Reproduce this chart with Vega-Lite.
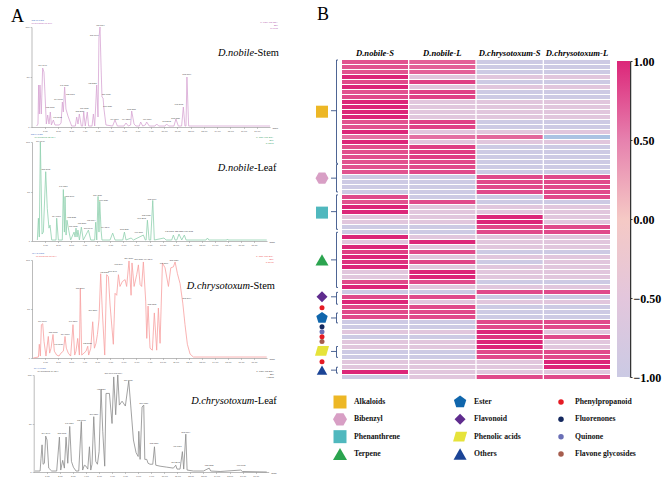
{"$schema":"https://vega.github.io/schema/vega-lite/v6.json","width":669,"height":493,"padding":0,"autosize":{"type":"fit","contains":"padding"},"background":"white","config":{"view":{"stroke":null}},
"resolve":{"scale":{"x":"independent","y":"independent","color":"independent","shape":"independent","size":"independent"},"axis":{"x":"independent","y":"independent"}},
"layer":[
{"layer":[
{"data":{"values":[[0.39,1],[0.49,3],[0.54,42],[0.59,13],[0.64,42],[0.74,13],[0.84,59],[0.94,55],[1.04,27],[1.12,3],[1.22,12],[1.32,3],[1.42,15],[1.5,2],[1.65,7],[1.77,2],[2.1,2],[2.23,4],[2.33,25],[2.4,15],[2.5,40],[2.6,18],[2.75,11],[3.03,1],[3.31,1],[3.41,10],[3.51,3],[3.61,13],[3.76,1],[3.86,1],[3.94,15],[4.06,1],[4.21,15],[4.31,1],[4.57,1],[4.67,13],[4.77,1],[4.92,42],[5.02,10],[5.09,89],[5.17,100],[5.25,60],[5.32,30],[5.4,29],[5.47,18],[5.62,2],[6.12,1],[6.3,7],[6.48,1],[6.98,1],[7.13,4],[7.31,1],[7.48,2],[7.56,16],[7.74,3],[7.88,1],[8.14,1],[8.24,5],[8.39,1],[8.59,2],[8.69,5],[8.89,1],[9.32,1],[9.45,3],[9.6,1],[10.08,1],[10.2,3],[10.35,1],[10.75,1],[10.9,8],[11.08,1],[11.33,1],[11.46,20],[11.58,1],[11.66,1],[11.73,50],[11.86,1],[12.97,1],[18,1]]},
"transform":[{"calculate":"datum[0]","as":"t"},{"calculate":"datum[1]","as":"i"}],
"mark":{"type":"line","color":"#D7A5D3","strokeWidth":0.8},
"encoding":{"x":{"field":"t","type":"quantitative","scale":{"domain":[0,18],"range":[31.5,270]},"axis":{"orient":"bottom","offset":-366,"values":[1,2,3,4,5,6,7,8,9,10,11,12,13,14,15,16,17],"format":".2f","grid":false,"title":null,"labelFontSize":2.4,"labelFont":"Liberation Sans","labelColor":"#555","labelPadding":1,"tickSize":1.5,"tickWidth":0.4,"tickColor":"#777","domainColor":"#777","domainWidth":0.5}},"y":{"field":"i","type":"quantitative","scale":{"domain":[0,100],"range":[127,27]},"axis":{"orient":"left","offset":-31.5,"values":[0,50,100],"format":"d","grid":false,"title":null,"labelFontSize":2.4,"labelFont":"Liberation Sans","labelColor":"#555","labelPadding":1,"tickSize":1.5,"tickWidth":0.4,"tickColor":"#777","domainColor":"#777","domainWidth":0.5}}}},
{"data":{"values":[{"t":0.84,"i":61,"label":"304.3040"},{"t":1.4,"i":19,"label":"318.3002"},{"t":1.97,"i":9,"label":"346.2930"},{"t":2.03,"i":27,"label":"314.3003"},{"t":2.48,"i":41,"label":"346.3276"},{"t":2.93,"i":32,"label":"318.3003"},{"t":3.64,"i":15,"label":"332.2958"},{"t":3.99,"i":18,"label":"360.3239"},{"t":4.59,"i":43,"label":"478.2783"},{"t":4.74,"i":91,"label":"509.3046"},{"t":5.19,"i":101,"label":"492.3694"},{"t":5.65,"i":32,"label":"524.3959"},{"t":5.75,"i":20,"label":"510.3780"},{"t":6.25,"i":7,"label":"494.3240"},{"t":7.13,"i":7,"label":"494.3239"},{"t":7.56,"i":17,"label":"512.3239"},{"t":8.72,"i":7,"label":"496.3397"},{"t":10.2,"i":5,"label":"391.2848"},{"t":10.88,"i":8,"label":"568.3387"},{"t":11.11,"i":22,"label":"748.3092"},{"t":11.73,"i":52,"label":"592.3694"}]},
"mark":{"type":"text","fontSize":2.1,"font":"Liberation Sans","color":"#444","baseline":"bottom"},"encoding":{"x":{"field":"t","type":"quantitative"},"y":{"field":"i","type":"quantitative"},"text":{"field":"label"}}},
{"data":{"values":[{"t":0,"i":107,"label":"NO-S-POS"}]},"mark":{"type":"text","fontSize":2.5,"font":"Liberation Sans","color":"#4A6FC4","align":"left"},"encoding":{"x":{"field":"t","type":"quantitative"},"y":{"field":"i","type":"quantitative"},"text":{"field":"label"}}},
{"data":{"values":[{"t":0,"i":104,"label":"UHPLCMS-01 594"}]},"mark":{"type":"text","fontSize":2.5,"font":"Liberation Sans","color":"#B45DB0","align":"left"},"encoding":{"x":{"field":"t","type":"quantitative"},"y":{"field":"i","type":"quantitative"},"text":{"field":"label"}}},
{"data":{"values":[{"t":18.6,"i":105,"label":"1: TOF MS ES+"},{"t":18.6,"i":102,"label":"BPI"},{"t":18.6,"i":99,"label":"8.96e5"}]},"mark":{"type":"text","fontSize":2.5,"font":"Liberation Sans","color":"#B45DB0","align":"right"},"encoding":{"x":{"field":"t","type":"quantitative"},"y":{"field":"i","type":"quantitative"},"text":{"field":"label"}}},
{"data":{"values":[{"t":18.4,"i":-1,"label":"Time"}]},"mark":{"type":"text","fontSize":2.5,"font":"Liberation Sans","color":"#333"},"encoding":{"x":{"field":"t","type":"quantitative"},"y":{"field":"i","type":"quantitative"},"text":{"field":"label"}}},
{"data":{"values":[{"t":16.8,"i":74,"label":"D.nobile"}]},"mark":{"type":"text","fontSize":10.4,"font":"Liberation Serif","fontStyle":"italic","align":"right","color":"#000"},"encoding":{"x":{"field":"t","type":"quantitative"},"y":{"field":"i","type":"quantitative"},"text":{"field":"label"}}},
{"data":{"values":[{"t":16.8,"i":74,"label":"-Stem"}]},"mark":{"type":"text","fontSize":10.4,"font":"Liberation Serif","align":"left","color":"#000"},"encoding":{"x":{"field":"t","type":"quantitative"},"y":{"field":"i","type":"quantitative"},"text":{"field":"label"}}},
{"data":{"values":[{"t":-1.06,"i":110,"label":"A"}]},"mark":{"type":"text","fontSize":18,"font":"Liberation Serif","color":"#000"},"encoding":{"x":{"field":"t","type":"quantitative"},"y":{"field":"i","type":"quantitative"},"text":{"field":"label"}}}
]},
{"layer":[
{"data":{"values":[[0.41,1],[0.49,23],[0.56,4],[0.64,100],[0.77,7],[0.87,9],[1.05,70],[1.17,33],[1.3,13],[1.38,16],[1.51,1],[1.84,1],[1.89,23],[2.02,1],[2.32,1],[2.4,52],[2.48,9],[2.53,45],[2.61,6],[2.68,21],[2.81,11],[2.96,1],[3.22,9],[3.3,4],[3.37,13],[3.45,4],[3.52,11],[3.63,1],[3.78,14],[3.93,1],[4.32,11],[4.5,1],[4.8,1],[4.88,19],[4.96,1],[5.06,45],[5.13,9],[5.19,40],[5.29,11],[5.36,1],[5.98,1],[6.18,8],[6.36,1],[6.95,1],[7.08,9],[7.2,1],[7.59,3],[7.77,1],[8.53,6],[8.68,1],[8.74,1],[8.84,21],[8.97,1],[9.09,1],[9.25,41],[9.37,1],[10.11,3],[10.27,1],[10.7,1],[10.83,6],[10.96,1],[11.09,1],[11.26,7],[11.47,1],[11.67,6],[11.8,1],[13.33,1],[13.44,3],[13.54,1],[14.92,1],[14.97,2],[15.02,1],[17.98,1]]},
"transform":[{"calculate":"datum[0]","as":"t"},{"calculate":"datum[1]","as":"i"}],
"mark":{"type":"line","color":"#8FD0AE","strokeWidth":0.8},
"encoding":{"x":{"field":"t","type":"quantitative","scale":{"domain":[0,18],"range":[32,267]},"axis":{"orient":"bottom","offset":-252,"values":[1,2,3,4,5,6,7,8,9,10,11,12,13,14,15,16,17],"format":".2f","grid":false,"title":null,"labelFontSize":2.4,"labelFont":"Liberation Sans","labelColor":"#555","labelPadding":1,"tickSize":1.5,"tickWidth":0.4,"tickColor":"#777","domainColor":"#777","domainWidth":0.5}},"y":{"field":"i","type":"quantitative","scale":{"domain":[0,100],"range":[241,142]},"axis":{"orient":"left","offset":-32,"values":[0,50,100],"format":"d","grid":false,"title":null,"labelFontSize":2.4,"labelFont":"Liberation Sans","labelColor":"#555","labelPadding":1,"tickSize":1.5,"tickWidth":0.4,"tickColor":"#777","domainColor":"#777","domainWidth":0.5}}}},
{"data":{"values":[{"t":0.64,"i":100.5,"label":"304.3040"},{"t":1.05,"i":72,"label":"318.3002"},{"t":2.4,"i":55,"label":"346.3276"},{"t":2.89,"i":45,"label":"318.3003"},{"t":1.86,"i":24,"label":"314.3003"},{"t":3.04,"i":23,"label":"332.2958"},{"t":3.17,"i":14,"label":"360.3239"},{"t":3.81,"i":17,"label":"478.2783"},{"t":4.32,"i":12,"label":"509.3046"},{"t":4.52,"i":20,"label":"492.3694"},{"t":5.03,"i":46,"label":"524.3959"},{"t":5.49,"i":41,"label":"510.3780"},{"t":5.59,"i":13,"label":"494.3240"},{"t":7.08,"i":11,"label":"512.3239"},{"t":8.17,"i":8,"label":"496.3397"},{"t":8.4,"i":22,"label":"391.2848"},{"t":8.76,"i":25,"label":"568.3387"},{"t":9.2,"i":42,"label":"592.3694"},{"t":10.52,"i":9,"label":"748.3092"},{"t":11.26,"i":9,"label":"622.3552"},{"t":12,"i":9,"label":"636.3712"}]},
"mark":{"type":"text","fontSize":2.1,"font":"Liberation Sans","color":"#444","baseline":"bottom"},"encoding":{"x":{"field":"t","type":"quantitative"},"y":{"field":"i","type":"quantitative"},"text":{"field":"label"}}},
{"data":{"values":[{"t":-0.1,"i":108,"label":"NO-L-POS"}]},"mark":{"type":"text","fontSize":2.5,"font":"Liberation Sans","color":"#4A6FC4","align":"left"},"encoding":{"x":{"field":"t","type":"quantitative"},"y":{"field":"i","type":"quantitative"},"text":{"field":"label"}}},
{"data":{"values":[{"t":0.2,"i":105,"label":"UHPLCMS-02 594"}]},"mark":{"type":"text","fontSize":2.5,"font":"Liberation Sans","color":"#3FA66C","align":"left"},"encoding":{"x":{"field":"t","type":"quantitative"},"y":{"field":"i","type":"quantitative"},"text":{"field":"label"}}},
{"data":{"values":[{"t":18.5,"i":105,"label":"1: TOF MS ES+"},{"t":18.5,"i":102,"label":"BPI"},{"t":18.5,"i":99,"label":"8.62e5"}]},"mark":{"type":"text","fontSize":2.5,"font":"Liberation Sans","color":"#3FA66C","align":"right"},"encoding":{"x":{"field":"t","type":"quantitative"},"y":{"field":"i","type":"quantitative"},"text":{"field":"label"}}},
{"data":{"values":[{"t":18.4,"i":-1,"label":"Time"}]},"mark":{"type":"text","fontSize":2.5,"font":"Liberation Sans","color":"#333"},"encoding":{"x":{"field":"t","type":"quantitative"},"y":{"field":"i","type":"quantitative"},"text":{"field":"label"}}},
{"data":{"values":[{"t":17,"i":74,"label":"D.nobile"}]},"mark":{"type":"text","fontSize":10.4,"font":"Liberation Serif","fontStyle":"italic","align":"right","color":"#000"},"encoding":{"x":{"field":"t","type":"quantitative"},"y":{"field":"i","type":"quantitative"},"text":{"field":"label"}}},
{"data":{"values":[{"t":17,"i":74,"label":"-Leaf"}]},"mark":{"type":"text","fontSize":10.4,"font":"Liberation Serif","align":"left","color":"#000"},"encoding":{"x":{"field":"t","type":"quantitative"},"y":{"field":"i","type":"quantitative"},"text":{"field":"label"}}}
]},
{"layer":[
{"data":{"values":[[0.1,0],[0.49,1],[0.56,14],[0.64,2],[0.72,34],[0.82,35],[0.92,17],[1.07,2],[1.25,22],[1.35,5],[1.46,10],[1.61,24],[1.71,7],[1.89,3],[2.07,2],[2.22,5],[2.4,7],[2.53,22],[2.63,10],[2.78,5],[2.96,2],[3.14,34],[3.27,3],[3.37,7],[3.5,20],[3.63,3],[3.7,71],[3.81,3],[3.98,5],[4.14,7],[4.27,12],[4.34,3],[4.5,10],[4.65,37],[4.78,10],[4.9,15],[5.01,24],[5.13,39],[5.26,86],[5.39,47],[5.57,3],[5.72,85],[5.85,83],[5.98,54],[6.23,14],[6.36,66],[6.49,64],[6.62,85],[6.74,73],[6.92,78],[7.13,80],[7.25,73],[7.43,99],[7.59,64],[7.66,97],[7.82,73],[8.02,85],[8.15,95],[8.28,75],[8.4,73],[8.53,98],[8.71,58],[8.79,20],[8.89,53],[9.04,10],[9.22,8],[9.37,46],[9.55,8],[9.68,51],[9.81,15],[9.99,97],[10.19,92],[10.45,73],[10.63,92],[10.83,93],[10.96,98],[11.14,86],[11.34,76],[11.55,56],[11.72,34],[11.9,14],[12.11,4],[12.36,1],[12.87,1],[17.98,1]]},
"transform":[{"calculate":"datum[0]","as":"t"},{"calculate":"datum[1]","as":"i"}],
"mark":{"type":"line","color":"#F8A0A0","strokeWidth":0.8},
"encoding":{"x":{"field":"t","type":"quantitative","scale":{"domain":[0,18],"range":[32,267]},"axis":{"orient":"bottom","offset":-135,"values":[1,2,3,4,5,6,7,8,9,10,11,12,13,14,15,16,17],"format":".2f","grid":false,"title":null,"labelFontSize":2.4,"labelFont":"Liberation Sans","labelColor":"#555","labelPadding":1,"tickSize":1.5,"tickWidth":0.4,"tickColor":"#777","domainColor":"#777","domainWidth":0.5}},"y":{"field":"i","type":"quantitative","scale":{"domain":[0,100],"range":[358,260]},"axis":{"orient":"left","offset":-32,"values":[0,50,100],"format":"d","grid":false,"title":null,"labelFontSize":2.4,"labelFont":"Liberation Sans","labelColor":"#555","labelPadding":1,"tickSize":1.5,"tickWidth":0.4,"tickColor":"#777","domainColor":"#777","domainWidth":0.5}}}},
{"data":{"values":[{"t":0.79,"i":37,"label":"304.3040"},{"t":1.61,"i":26,"label":"318.3002"},{"t":2.04,"i":13,"label":"346.2930"},{"t":2.53,"i":24,"label":"314.3003"},{"t":3.14,"i":37,"label":"346.3276"},{"t":3.68,"i":71,"label":"318.3003"},{"t":4.24,"i":14,"label":"332.2958"},{"t":4.65,"i":48,"label":"360.3239"},{"t":5.54,"i":87,"label":"478.2783"},{"t":6.18,"i":88,"label":"509.3046"},{"t":6.62,"i":95,"label":"492.3694"},{"t":7.41,"i":101,"label":"524.3959"},{"t":8.53,"i":100,"label":"510.3780 494.3240"},{"t":9.2,"i":54,"label":"512.3239"},{"t":10.09,"i":96,"label":"496.3397"},{"t":10.88,"i":99,"label":"568.3387"},{"t":11.85,"i":60,"label":"592.3694"}]},
"mark":{"type":"text","fontSize":2.1,"font":"Liberation Sans","color":"#444","baseline":"bottom"},"encoding":{"x":{"field":"t","type":"quantitative"},"y":{"field":"i","type":"quantitative"},"text":{"field":"label"}}},
{"data":{"values":[{"t":0,"i":107,"label":"CH-S-POS"}]},"mark":{"type":"text","fontSize":2.5,"font":"Liberation Sans","color":"#4A6FC4","align":"left"},"encoding":{"x":{"field":"t","type":"quantitative"},"y":{"field":"i","type":"quantitative"},"text":{"field":"label"}}},
{"data":{"values":[{"t":0.3,"i":104,"label":"UHPLCMS-03 594"}]},"mark":{"type":"text","fontSize":2.5,"font":"Liberation Sans","color":"#EE5A5A","align":"left"},"encoding":{"x":{"field":"t","type":"quantitative"},"y":{"field":"i","type":"quantitative"},"text":{"field":"label"}}},
{"data":{"values":[{"t":18.5,"i":104,"label":"1: TOF MS ES+"},{"t":18.5,"i":101,"label":"BPI"},{"t":18.5,"i":98,"label":"3.89e5"}]},"mark":{"type":"text","fontSize":2.5,"font":"Liberation Sans","color":"#EE5A5A","align":"right"},"encoding":{"x":{"field":"t","type":"quantitative"},"y":{"field":"i","type":"quantitative"},"text":{"field":"label"}}},
{"data":{"values":[{"t":18.4,"i":-1,"label":"Time"}]},"mark":{"type":"text","fontSize":2.5,"font":"Liberation Sans","color":"#333"},"encoding":{"x":{"field":"t","type":"quantitative"},"y":{"field":"i","type":"quantitative"},"text":{"field":"label"}}},
{"data":{"values":[{"t":16.7,"i":73,"label":"D.chrysotoxum"}]},"mark":{"type":"text","fontSize":10.4,"font":"Liberation Serif","fontStyle":"italic","align":"right","color":"#000"},"encoding":{"x":{"field":"t","type":"quantitative"},"y":{"field":"i","type":"quantitative"},"text":{"field":"label"}}},
{"data":{"values":[{"t":16.7,"i":73,"label":"-Stem"}]},"mark":{"type":"text","fontSize":10.4,"font":"Liberation Serif","align":"left","color":"#000"},"encoding":{"x":{"field":"t","type":"quantitative"},"y":{"field":"i","type":"quantitative"},"text":{"field":"label"}}}
]},
{"layer":[
{"data":{"values":[[0.1,1],[0.49,1],[0.56,14],[0.64,28],[0.72,8],[0.82,9],[0.92,37],[1.02,33],[1.15,4],[1.38,1],[1.76,1],[1.97,36],[2.07,2],[2.22,12],[2.35,4],[2.48,36],[2.61,9],[2.76,47],[2.89,11],[3.04,5],[3.24,1],[3.45,1],[3.65,52],[3.75,2],[3.88,7],[4.01,6],[4.14,3],[4.27,26],[4.37,2],[4.47,8],[4.6,57],[4.75,11],[4.88,8],[5.01,21],[5.16,85],[5.29,42],[5.44,6],[5.54,81],[5.8,81],[6.0,50],[6.13,98],[6.28,59],[6.44,100],[6.56,69],[6.77,73],[7.02,68],[7.28,94],[7.43,69],[7.64,33],[7.84,20],[8.0,16],[8.05,42],[8.15,13],[8.3,67],[8.43,69],[8.51,13],[8.66,13],[8.76,9],[8.91,8],[9.12,8],[9.25,26],[9.35,7],[9.68,6],[10.19,5],[10.7,4],[10.88,7],[10.98,3],[11.21,3],[11.39,21],[11.49,3],[11.65,39],[11.75,2],[12.23,1],[13.0,1],[13.44,4],[13.56,1],[14.28,0.5],[15.86,2],[15.99,0.5],[17.85,0]]},
"transform":[{"calculate":"datum[0]","as":"t"},{"calculate":"datum[1]","as":"i"}],
"mark":{"type":"line","color":"#8A8A8A","strokeWidth":0.8},
"encoding":{"x":{"field":"t","type":"quantitative","scale":{"domain":[0,18],"range":[33.7,268.7]},"axis":{"orient":"bottom","offset":-21,"values":[1,2,3,4,5,6,7,8,9,10,11,12,13,14,15,16,17],"format":".2f","grid":false,"title":null,"labelFontSize":2.4,"labelFont":"Liberation Sans","labelColor":"#555","labelPadding":1,"tickSize":1.5,"tickWidth":0.4,"tickColor":"#777","domainColor":"#777","domainWidth":0.5}},"y":{"field":"i","type":"quantitative","scale":{"domain":[0,100],"range":[472,375]},"axis":{"orient":"left","offset":-33.7,"values":[0,50,100],"format":"d","grid":false,"title":null,"labelFontSize":2.4,"labelFont":"Liberation Sans","labelColor":"#555","labelPadding":1,"tickSize":1.5,"tickWidth":0.4,"tickColor":"#777","domainColor":"#777","domainWidth":0.5}}}},
{"data":{"values":[{"t":0.92,"i":39,"label":"304.3040"},{"t":2.15,"i":39,"label":"318.3002"},{"t":2.73,"i":50,"label":"346.3276"},{"t":3.65,"i":53,"label":"318.3003"},{"t":4.6,"i":59,"label":"360.3239"},{"t":5.16,"i":85,"label":"478.2783"},{"t":5.77,"i":101,"label":"509.3046"},{"t":6.44,"i":101,"label":"492.3694"},{"t":7.25,"i":94,"label":"524.3959"},{"t":8.43,"i":70,"label":"510.3780"},{"t":9.22,"i":29,"label":"512.3239"},{"t":11,"i":26,"label":"496.3397"},{"t":10.86,"i":9,"label":"391.2848"},{"t":11.65,"i":40,"label":"592.3694"},{"t":13.44,"i":6,"label":"622.3552"},{"t":15.89,"i":6,"label":"636.3712"}]},
"mark":{"type":"text","fontSize":2.1,"font":"Liberation Sans","color":"#444","baseline":"bottom"},"encoding":{"x":{"field":"t","type":"quantitative"},"y":{"field":"i","type":"quantitative"},"text":{"field":"label"}}},
{"data":{"values":[{"t":0,"i":107,"label":"CH-L-POS"}]},"mark":{"type":"text","fontSize":2.5,"font":"Liberation Sans","color":"#4A6FC4","align":"left"},"encoding":{"x":{"field":"t","type":"quantitative"},"y":{"field":"i","type":"quantitative"},"text":{"field":"label"}}},
{"data":{"values":[{"t":0.3,"i":104,"label":"UHPLCMS-04 594"}]},"mark":{"type":"text","fontSize":2.5,"font":"Liberation Sans","color":"#444","align":"left"},"encoding":{"x":{"field":"t","type":"quantitative"},"y":{"field":"i","type":"quantitative"},"text":{"field":"label"}}},
{"data":{"values":[{"t":18.4,"i":104,"label":"1: TOF MS ES+"},{"t":18.4,"i":101,"label":"BPI"},{"t":18.4,"i":98,"label":"4.28e5"}]},"mark":{"type":"text","fontSize":2.5,"font":"Liberation Sans","color":"#444","align":"right"},"encoding":{"x":{"field":"t","type":"quantitative"},"y":{"field":"i","type":"quantitative"},"text":{"field":"label"}}},
{"data":{"values":[{"t":18.4,"i":-1,"label":"Time"}]},"mark":{"type":"text","fontSize":2.5,"font":"Liberation Sans","color":"#333"},"encoding":{"x":{"field":"t","type":"quantitative"},"y":{"field":"i","type":"quantitative"},"text":{"field":"label"}}},
{"data":{"values":[{"t":16.9,"i":73,"label":"D.chrysotoxum"}]},"mark":{"type":"text","fontSize":10.4,"font":"Liberation Serif","fontStyle":"italic","align":"right","color":"#000"},"encoding":{"x":{"field":"t","type":"quantitative"},"y":{"field":"i","type":"quantitative"},"text":{"field":"label"}}},
{"data":{"values":[{"t":16.9,"i":73,"label":"-Leaf"}]},"mark":{"type":"text","fontSize":10.4,"font":"Liberation Serif","align":"left","color":"#000"},"encoding":{"x":{"field":"t","type":"quantitative"},"y":{"field":"i","type":"quantitative"},"text":{"field":"label"}}}
]},
{"data":{"values":[
{"row":1,"s":"D.nobile-S","v":0.8},{"row":1,"s":"D.nobile-L","v":0.72},{"row":1,"s":"D.chrysotoxum-S","v":-0.95},{"row":1,"s":"D.chrysotoxum-L","v":-0.95},
{"row":2,"s":"D.nobile-S","v":0.8},{"row":2,"s":"D.nobile-L","v":0.72},{"row":2,"s":"D.chrysotoxum-S","v":-0.95},{"row":2,"s":"D.chrysotoxum-L","v":-0.95},
{"row":3,"s":"D.nobile-S","v":0.8},{"row":3,"s":"D.nobile-L","v":0.72},{"row":3,"s":"D.chrysotoxum-S","v":-0.95},{"row":3,"s":"D.chrysotoxum-L","v":-0.95},
{"row":4,"s":"D.nobile-S","v":1},{"row":4,"s":"D.nobile-L","v":-0.55},{"row":4,"s":"D.chrysotoxum-S","v":-0.55},{"row":4,"s":"D.chrysotoxum-L","v":-0.55},
{"row":5,"s":"D.nobile-S","v":0.85},{"row":5,"s":"D.nobile-L","v":0.9},{"row":5,"s":"D.chrysotoxum-S","v":-0.95},{"row":5,"s":"D.chrysotoxum-L","v":-0.95},
{"row":6,"s":"D.nobile-S","v":1},{"row":6,"s":"D.nobile-L","v":-0.55},{"row":6,"s":"D.chrysotoxum-S","v":-0.55},{"row":6,"s":"D.chrysotoxum-L","v":-0.55},
{"row":7,"s":"D.nobile-S","v":0.8},{"row":7,"s":"D.nobile-L","v":0.88},{"row":7,"s":"D.chrysotoxum-S","v":-0.95},{"row":7,"s":"D.chrysotoxum-L","v":-0.95},
{"row":8,"s":"D.nobile-S","v":0.85},{"row":8,"s":"D.nobile-L","v":0.88},{"row":8,"s":"D.chrysotoxum-S","v":-0.95},{"row":8,"s":"D.chrysotoxum-L","v":-0.95},
{"row":9,"s":"D.nobile-S","v":1},{"row":9,"s":"D.nobile-L","v":-0.55},{"row":9,"s":"D.chrysotoxum-S","v":-0.55},{"row":9,"s":"D.chrysotoxum-L","v":-0.55},
{"row":10,"s":"D.nobile-S","v":1},{"row":10,"s":"D.nobile-L","v":-0.55},{"row":10,"s":"D.chrysotoxum-S","v":-0.55},{"row":10,"s":"D.chrysotoxum-L","v":-0.55},
{"row":11,"s":"D.nobile-S","v":1},{"row":11,"s":"D.nobile-L","v":-0.55},{"row":11,"s":"D.chrysotoxum-S","v":-0.55},{"row":11,"s":"D.chrysotoxum-L","v":-0.55},
{"row":12,"s":"D.nobile-S","v":1},{"row":12,"s":"D.nobile-L","v":-0.55},{"row":12,"s":"D.chrysotoxum-S","v":-0.55},{"row":12,"s":"D.chrysotoxum-L","v":-0.55},
{"row":13,"s":"D.nobile-S","v":0.8},{"row":13,"s":"D.nobile-L","v":0.88},{"row":13,"s":"D.chrysotoxum-S","v":-0.95},{"row":13,"s":"D.chrysotoxum-L","v":-0.95},
{"row":14,"s":"D.nobile-S","v":0.8},{"row":14,"s":"D.nobile-L","v":0.88},{"row":14,"s":"D.chrysotoxum-S","v":-0.95},{"row":14,"s":"D.chrysotoxum-L","v":-0.95},
{"row":15,"s":"D.nobile-S","v":1},{"row":15,"s":"D.nobile-L","v":-0.55},{"row":15,"s":"D.chrysotoxum-S","v":-0.55},{"row":15,"s":"D.chrysotoxum-L","v":-0.55},
{"row":16,"s":"D.nobile-S","v":0.62},{"row":16,"s":"D.nobile-L","v":0.62},{"row":16,"s":"D.chrysotoxum-S","v":0.68},{"row":16,"s":"D.chrysotoxum-L","v":-1.25},
{"row":17,"s":"D.nobile-S","v":1},{"row":17,"s":"D.nobile-L","v":-0.55},{"row":17,"s":"D.chrysotoxum-S","v":-0.55},{"row":17,"s":"D.chrysotoxum-L","v":-0.55},
{"row":18,"s":"D.nobile-S","v":0.82},{"row":18,"s":"D.nobile-L","v":0.9},{"row":18,"s":"D.chrysotoxum-S","v":-0.95},{"row":18,"s":"D.chrysotoxum-L","v":-0.95},
{"row":19,"s":"D.nobile-S","v":0.82},{"row":19,"s":"D.nobile-L","v":0.9},{"row":19,"s":"D.chrysotoxum-S","v":-0.95},{"row":19,"s":"D.chrysotoxum-L","v":-0.95},
{"row":20,"s":"D.nobile-S","v":0.82},{"row":20,"s":"D.nobile-L","v":0.9},{"row":20,"s":"D.chrysotoxum-S","v":-0.95},{"row":20,"s":"D.chrysotoxum-L","v":-0.95},
{"row":21,"s":"D.nobile-S","v":0.8},{"row":21,"s":"D.nobile-L","v":0.85},{"row":21,"s":"D.chrysotoxum-S","v":-0.95},{"row":21,"s":"D.chrysotoxum-L","v":-0.95},
{"row":22,"s":"D.nobile-S","v":0.8},{"row":22,"s":"D.nobile-L","v":0.85},{"row":22,"s":"D.chrysotoxum-S","v":-0.95},{"row":22,"s":"D.chrysotoxum-L","v":-0.95},
{"row":23,"s":"D.nobile-S","v":0.8},{"row":23,"s":"D.nobile-L","v":0.85},{"row":23,"s":"D.chrysotoxum-S","v":-0.95},{"row":23,"s":"D.chrysotoxum-L","v":-0.95},
{"row":24,"s":"D.nobile-S","v":-0.95},{"row":24,"s":"D.nobile-L","v":-0.95},{"row":24,"s":"D.chrysotoxum-S","v":0.85},{"row":24,"s":"D.chrysotoxum-L","v":0.85},
{"row":25,"s":"D.nobile-S","v":-0.95},{"row":25,"s":"D.nobile-L","v":-0.95},{"row":25,"s":"D.chrysotoxum-S","v":0.85},{"row":25,"s":"D.chrysotoxum-L","v":0.85},
{"row":26,"s":"D.nobile-S","v":-0.95},{"row":26,"s":"D.nobile-L","v":-0.95},{"row":26,"s":"D.chrysotoxum-S","v":0.85},{"row":26,"s":"D.chrysotoxum-L","v":0.85},
{"row":27,"s":"D.nobile-S","v":-0.95},{"row":27,"s":"D.nobile-L","v":-0.95},{"row":27,"s":"D.chrysotoxum-S","v":0.85},{"row":27,"s":"D.chrysotoxum-L","v":0.85},
{"row":28,"s":"D.nobile-S","v":0.85},{"row":28,"s":"D.nobile-L","v":-0.95},{"row":28,"s":"D.chrysotoxum-S","v":-0.95},{"row":28,"s":"D.chrysotoxum-L","v":0.85},
{"row":29,"s":"D.nobile-S","v":0.8},{"row":29,"s":"D.nobile-L","v":0.85},{"row":29,"s":"D.chrysotoxum-S","v":-0.95},{"row":29,"s":"D.chrysotoxum-L","v":-0.95},
{"row":30,"s":"D.nobile-S","v":1},{"row":30,"s":"D.nobile-L","v":-0.55},{"row":30,"s":"D.chrysotoxum-S","v":-0.55},{"row":30,"s":"D.chrysotoxum-L","v":-0.55},
{"row":31,"s":"D.nobile-S","v":1},{"row":31,"s":"D.nobile-L","v":-0.55},{"row":31,"s":"D.chrysotoxum-S","v":-0.55},{"row":31,"s":"D.chrysotoxum-L","v":-0.55},
{"row":32,"s":"D.nobile-S","v":-0.55},{"row":32,"s":"D.nobile-L","v":-0.55},{"row":32,"s":"D.chrysotoxum-S","v":1},{"row":32,"s":"D.chrysotoxum-L","v":-0.55},
{"row":33,"s":"D.nobile-S","v":-0.55},{"row":33,"s":"D.nobile-L","v":-0.55},{"row":33,"s":"D.chrysotoxum-S","v":1},{"row":33,"s":"D.chrysotoxum-L","v":-0.55},
{"row":34,"s":"D.nobile-S","v":-0.95},{"row":34,"s":"D.nobile-L","v":-0.95},{"row":34,"s":"D.chrysotoxum-S","v":0.85},{"row":34,"s":"D.chrysotoxum-L","v":0.85},
{"row":35,"s":"D.nobile-S","v":-0.95},{"row":35,"s":"D.nobile-L","v":-0.95},{"row":35,"s":"D.chrysotoxum-S","v":0.85},{"row":35,"s":"D.chrysotoxum-L","v":0.85},
{"row":36,"s":"D.nobile-S","v":1},{"row":36,"s":"D.nobile-L","v":-0.55},{"row":36,"s":"D.chrysotoxum-S","v":-0.55},{"row":36,"s":"D.chrysotoxum-L","v":-0.55},
{"row":37,"s":"D.nobile-S","v":-0.55},{"row":37,"s":"D.nobile-L","v":1},{"row":37,"s":"D.chrysotoxum-S","v":-0.55},{"row":37,"s":"D.chrysotoxum-L","v":-0.55},
{"row":38,"s":"D.nobile-S","v":1},{"row":38,"s":"D.nobile-L","v":-0.55},{"row":38,"s":"D.chrysotoxum-S","v":-0.55},{"row":38,"s":"D.chrysotoxum-L","v":-0.55},
{"row":39,"s":"D.nobile-S","v":0.9},{"row":39,"s":"D.nobile-L","v":0.85},{"row":39,"s":"D.chrysotoxum-S","v":-0.95},{"row":39,"s":"D.chrysotoxum-L","v":-0.95},
{"row":40,"s":"D.nobile-S","v":1},{"row":40,"s":"D.nobile-L","v":-0.55},{"row":40,"s":"D.chrysotoxum-S","v":-0.55},{"row":40,"s":"D.chrysotoxum-L","v":-0.55},
{"row":41,"s":"D.nobile-S","v":0.95},{"row":41,"s":"D.nobile-L","v":0.88},{"row":41,"s":"D.chrysotoxum-S","v":-0.95},{"row":41,"s":"D.chrysotoxum-L","v":-0.55},
{"row":42,"s":"D.nobile-S","v":1},{"row":42,"s":"D.nobile-L","v":-0.55},{"row":42,"s":"D.chrysotoxum-S","v":-0.55},{"row":42,"s":"D.chrysotoxum-L","v":-0.55},
{"row":43,"s":"D.nobile-S","v":-0.55},{"row":43,"s":"D.nobile-L","v":1},{"row":43,"s":"D.chrysotoxum-S","v":-0.55},{"row":43,"s":"D.chrysotoxum-L","v":-0.55},
{"row":44,"s":"D.nobile-S","v":-0.55},{"row":44,"s":"D.nobile-L","v":1},{"row":44,"s":"D.chrysotoxum-S","v":-0.55},{"row":44,"s":"D.chrysotoxum-L","v":-0.55},
{"row":45,"s":"D.nobile-S","v":0.85},{"row":45,"s":"D.nobile-L","v":0.85},{"row":45,"s":"D.chrysotoxum-S","v":-0.95},{"row":45,"s":"D.chrysotoxum-L","v":-0.95},
{"row":46,"s":"D.nobile-S","v":1},{"row":46,"s":"D.nobile-L","v":-0.55},{"row":46,"s":"D.chrysotoxum-S","v":-0.55},{"row":46,"s":"D.chrysotoxum-L","v":-0.55},
{"row":47,"s":"D.nobile-S","v":-0.95},{"row":47,"s":"D.nobile-L","v":-0.95},{"row":47,"s":"D.chrysotoxum-S","v":0.85},{"row":47,"s":"D.chrysotoxum-L","v":0.85},
{"row":48,"s":"D.nobile-S","v":0.85},{"row":48,"s":"D.nobile-L","v":0.85},{"row":48,"s":"D.chrysotoxum-S","v":-0.95},{"row":48,"s":"D.chrysotoxum-L","v":-0.95},
{"row":49,"s":"D.nobile-S","v":1},{"row":49,"s":"D.nobile-L","v":-0.55},{"row":49,"s":"D.chrysotoxum-S","v":-0.55},{"row":49,"s":"D.chrysotoxum-L","v":-0.55},
{"row":50,"s":"D.nobile-S","v":0.85},{"row":50,"s":"D.nobile-L","v":0.85},{"row":50,"s":"D.chrysotoxum-S","v":-0.95},{"row":50,"s":"D.chrysotoxum-L","v":-0.95},
{"row":51,"s":"D.nobile-S","v":0.85},{"row":51,"s":"D.nobile-L","v":0.85},{"row":51,"s":"D.chrysotoxum-S","v":-0.95},{"row":51,"s":"D.chrysotoxum-L","v":-0.95},
{"row":52,"s":"D.nobile-S","v":0.85},{"row":52,"s":"D.nobile-L","v":0.85},{"row":52,"s":"D.chrysotoxum-S","v":-0.95},{"row":52,"s":"D.chrysotoxum-L","v":-0.95},
{"row":53,"s":"D.nobile-S","v":-0.95},{"row":53,"s":"D.nobile-L","v":-0.95},{"row":53,"s":"D.chrysotoxum-S","v":0.85},{"row":53,"s":"D.chrysotoxum-L","v":0.85},
{"row":54,"s":"D.nobile-S","v":-0.95},{"row":54,"s":"D.nobile-L","v":-0.95},{"row":54,"s":"D.chrysotoxum-S","v":0.85},{"row":54,"s":"D.chrysotoxum-L","v":0.85},
{"row":55,"s":"D.nobile-S","v":-0.55},{"row":55,"s":"D.nobile-L","v":-0.55},{"row":55,"s":"D.chrysotoxum-S","v":1},{"row":55,"s":"D.chrysotoxum-L","v":-0.55},
{"row":56,"s":"D.nobile-S","v":-0.95},{"row":56,"s":"D.nobile-L","v":-0.95},{"row":56,"s":"D.chrysotoxum-S","v":0.95},{"row":56,"s":"D.chrysotoxum-L","v":0.85},
{"row":57,"s":"D.nobile-S","v":-0.55},{"row":57,"s":"D.nobile-L","v":-0.55},{"row":57,"s":"D.chrysotoxum-S","v":1},{"row":57,"s":"D.chrysotoxum-L","v":-0.55},
{"row":58,"s":"D.nobile-S","v":-0.55},{"row":58,"s":"D.nobile-L","v":-0.55},{"row":58,"s":"D.chrysotoxum-S","v":1},{"row":58,"s":"D.chrysotoxum-L","v":-0.55},
{"row":59,"s":"D.nobile-S","v":-0.95},{"row":59,"s":"D.nobile-L","v":-0.95},{"row":59,"s":"D.chrysotoxum-S","v":0.85},{"row":59,"s":"D.chrysotoxum-L","v":0.85},
{"row":60,"s":"D.nobile-S","v":-0.95},{"row":60,"s":"D.nobile-L","v":-0.95},{"row":60,"s":"D.chrysotoxum-S","v":0.85},{"row":60,"s":"D.chrysotoxum-L","v":0.85},
{"row":61,"s":"D.nobile-S","v":-0.55},{"row":61,"s":"D.nobile-L","v":-0.55},{"row":61,"s":"D.chrysotoxum-S","v":-0.55},{"row":61,"s":"D.chrysotoxum-L","v":1},
{"row":62,"s":"D.nobile-S","v":-0.55},{"row":62,"s":"D.nobile-L","v":-0.55},{"row":62,"s":"D.chrysotoxum-S","v":-0.55},{"row":62,"s":"D.chrysotoxum-L","v":1},
{"row":63,"s":"D.nobile-S","v":1},{"row":63,"s":"D.nobile-L","v":-0.55},{"row":63,"s":"D.chrysotoxum-S","v":-0.55},{"row":63,"s":"D.chrysotoxum-L","v":-0.55},
{"row":64,"s":"D.nobile-S","v":-0.95},{"row":64,"s":"D.nobile-L","v":-0.55},{"row":64,"s":"D.chrysotoxum-S","v":0.85},{"row":64,"s":"D.chrysotoxum-L","v":0.85}
]},
"mark":{"type":"rect"},
"encoding":{"x":{"field":"s","type":"nominal","sort":null,"scale":{"domain":["D.nobile-S","D.nobile-L","D.chrysotoxum-S","D.chrysotoxum-L"],"range":[342,610],"paddingInner":0.02,"paddingOuter":0},"axis":{"orient":"top","offset":-59,"title":null,"domain":false,"ticks":false,"labelAngle":0,"labelFont":"Liberation Serif","labelFontSize":8.6,"labelFontWeight":"bold","labelFontStyle":"italic","labelColor":"#000","labelPadding":2}},
"y":{"field":"row","type":"ordinal","axis":null,"scale":{"range":[60,379],"paddingInner":0.2,"paddingOuter":0}},
"color":{"field":"v","type":"quantitative","legend":null,"scale":{"domain":[-1.25,-1,-0.5,0,0.5,1],"range":["#ABC3E3","#CBCAE4","#E3C6DC","#F5C9C5","#E681AE","#DC2679"]}}}},
{"data":{"values":[{"x0":0,"x1":1,"lo":-1,"hi":1}]},
"mark":{"type":"rect","color":{"gradient":"linear","x1":0,"y1":1,"x2":0,"y2":0,"stops":[{"offset":0,"color":"#CBCAE4"},{"offset":0.25,"color":"#E3C6DC"},{"offset":0.5,"color":"#F5C9C5"},{"offset":0.75,"color":"#E681AE"},{"offset":1,"color":"#DC2679"}]}},
"encoding":{"x":{"field":"x0","type":"quantitative","axis":null,"scale":{"domain":[0,1],"range":[617,630]}},"x2":{"field":"x1"},
"y":{"field":"lo","type":"quantitative","scale":{"domain":[-1,1],"range":[377,61]},"axis":{"orient":"right","offset":-39,"values":[-1,-0.5,0,0.5,1],"format":".2f","grid":false,"title":null,"domainColor":"#333","domainWidth":1.5,"tickColor":"#333","tickWidth":1,"tickSize":2,"labelFont":"Liberation Serif","labelFontSize":12,"labelFontWeight":"bold","labelColor":"#000","labelPadding":1}},"y2":{"field":"hi"}}},
{"data":{"values":[{"group":"Alkaloids","top":0,"bottom":21,"mid":10.3},{"group":"Bibenzyl","top":21.2,"bottom":26.8,"mid":24},{"group":"Phenanthrene","top":27.4,"bottom":34.4,"mid":30.8},{"group":"Terpene","top":35,"bottom":46.2,"mid":40.6},{"group":"Flavonoid","top":47.2,"bottom":49.6,"mid":48.1},{"group":"Ester","top":51.4,"bottom":53.4,"mid":52.4},{"group":"Phenolic acids","top":58.2,"bottom":60.4,"mid":59.2},{"group":"Others","top":62.4,"bottom":63.6,"mid":63}]},
"layer":[
{"mark":{"type":"rule","color":"#3A5488","strokeWidth":0.9},"encoding":{"x":{"datum":8.6,"type":"quantitative","axis":null,"scale":{"domain":[0,10],"range":[315,340]}},"y":{"field":"top","type":"quantitative","axis":null,"scale":{"domain":[0,64],"range":[60,380]}},"y2":{"field":"bottom"}}},
{"mark":{"type":"rule","color":"#3A5488","strokeWidth":0.9},"encoding":{"x":{"datum":8.6,"type":"quantitative","axis":null},"x2":{"datum":9.2},"y":{"field":"top","type":"quantitative","axis":null}}},
{"mark":{"type":"rule","color":"#3A5488","strokeWidth":0.9},"encoding":{"x":{"datum":8.6,"type":"quantitative","axis":null},"x2":{"datum":9.2},"y":{"field":"bottom","type":"quantitative","axis":null}}},
{"mark":{"type":"rule","color":"#3A5488","strokeWidth":0.9},"encoding":{"x":{"datum":6.4,"type":"quantitative","axis":null},"x2":{"datum":8.6},"y":{"field":"mid","type":"quantitative","axis":null}}},
{"data":{"values":[{"item":"Alkaloids","pos":10.5},{"item":"Bibenzyl","pos":24},{"item":"Phenanthrene","pos":31},{"item":"Terpene","pos":40.6},{"item":"Flavonoid","pos":48.1},{"item":"Phenylpropanoid","pos":50.3},{"item":"Ester","pos":52.4},{"item":"Fluorenones","pos":54.2},{"item":"Quinone","pos":55.2},{"item":"Phenylpropanoid","pos":56.2},{"item":"Flavone glycosides","pos":57.2},{"item":"Phenolic acids","pos":59.1},{"item":"Phenylpropanoid","pos":61.3},{"item":"Others","pos":63}]},
"mark":{"type":"point","filled":true,"opacity":1},
"encoding":{"x":{"datum":2.8,"type":"quantitative","axis":null},"y":{"field":"pos","type":"quantitative","axis":null},
"color":{"field":"item","type":"nominal","legend":null,"scale":{"domain":["Alkaloids","Bibenzyl","Phenanthrene","Terpene","Ester","Flavonoid","Phenolic acids","Others","Phenylpropanoid","Fluorenones","Quinone","Flavone glycosides"],"range":["#EDB725","#D89FC5","#50B8BE","#2BA44F","#1066AC","#5F2C8E","#E6E33A","#1B4496","#E51B24","#14285E","#6A6FB6","#A65D4E"]}},
"shape":{"field":"item","type":"nominal","legend":null,"scale":{"domain":["Alkaloids","Bibenzyl","Phenanthrene","Terpene","Ester","Flavonoid","Phenolic acids","Others","Phenylpropanoid","Fluorenones","Quinone","Flavone glycosides"],"range":["square","M-1,0L-.5,-.87L.5,-.87L1,0L.5,.87L-.5,.87Z","square","triangle-up","M0,-1L.95,-.31L.59,.81L-.59,.81L-.95,-.31Z","diamond","M-.6,-.7L1,-.7L.6,.7L-1,.7Z","triangle-up","circle","circle","circle","circle"]}},
"size":{"field":"item","type":"ordinal","legend":null,"scale":{"type":"ordinal","domain":["Alkaloids","Bibenzyl","Phenanthrene","Terpene","Ester","Flavonoid","Phenolic acids","Others","Phenylpropanoid","Fluorenones","Quinone","Flavone glycosides"],"range":[144,169,144,169,144,121,196,110,25,25,25,25]}}}},
{"data":{"values":[{"x":3.2,"y":-9.2,"label":"B"}]},"mark":{"type":"text","fontSize":18,"font":"Liberation Serif","color":"#000"},"encoding":{"x":{"field":"x","type":"quantitative","axis":null},"y":{"field":"y","type":"quantitative","axis":null},"text":{"field":"label"}}}
]},
{"data":{"values":[{"item":"Alkaloids","col":0,"line":0},{"item":"Bibenzyl","col":0,"line":1},{"item":"Phenanthrene","col":0,"line":2},{"item":"Terpene","col":0,"line":3},{"item":"Ester","col":1,"line":0},{"item":"Flavonoid","col":1,"line":1},{"item":"Phenolic acids","col":1,"line":2},{"item":"Others","col":1,"line":3},{"item":"Phenylpropanoid","col":2,"line":0},{"item":"Fluorenones","col":2,"line":1},{"item":"Quinone","col":2,"line":2},{"item":"Flavone glycosides","col":2,"line":3}]},
"layer":[
{"mark":{"type":"point","filled":true,"opacity":1},
"encoding":{"x":{"field":"col","type":"quantitative","axis":null,"scale":{"type":"pow","exponent":0.88,"domain":[0,2],"range":[340,561]}},"y":{"field":"line","type":"quantitative","axis":null,"scale":{"domain":[0,3],"range":[402,454]}},
"color":{"field":"item","type":"nominal","legend":null,"scale":{"domain":["Alkaloids","Bibenzyl","Phenanthrene","Terpene","Ester","Flavonoid","Phenolic acids","Others","Phenylpropanoid","Fluorenones","Quinone","Flavone glycosides"],"range":["#EDB725","#D89FC5","#50B8BE","#2BA44F","#1066AC","#5F2C8E","#E6E33A","#1B4496","#E51B24","#14285E","#6A6FB6","#A65D4E"]}},
"shape":{"field":"item","type":"nominal","legend":null,"scale":{"domain":["Alkaloids","Bibenzyl","Phenanthrene","Terpene","Ester","Flavonoid","Phenolic acids","Others","Phenylpropanoid","Fluorenones","Quinone","Flavone glycosides"],"range":["square","M-1,0L-.5,-.87L.5,-.87L1,0L.5,.87L-.5,.87Z","square","triangle-up","M0,-1L.95,-.31L.59,.81L-.59,.81L-.95,-.31Z","diamond","M-.6,-.7L1,-.7L.6,.7L-1,.7Z","triangle-up","circle","circle","circle","circle"]}},
"size":{"field":"item","type":"ordinal","legend":null,"scale":{"type":"ordinal","domain":["Alkaloids","Bibenzyl","Phenanthrene","Terpene","Ester","Flavonoid","Phenolic acids","Others","Phenylpropanoid","Fluorenones","Quinone","Flavone glycosides"],"range":[169,196,169,196,169,121,196,169,30,30,30,30]}}}},
{"mark":{"type":"text","align":"left","dx":14,"font":"Liberation Serif","fontWeight":"bold","fontSize":7.7,"color":"#111"},"encoding":{"x":{"field":"col","type":"quantitative","axis":null},"y":{"field":"line","type":"quantitative","axis":null},"text":{"field":"item"}}}
]}
]}
